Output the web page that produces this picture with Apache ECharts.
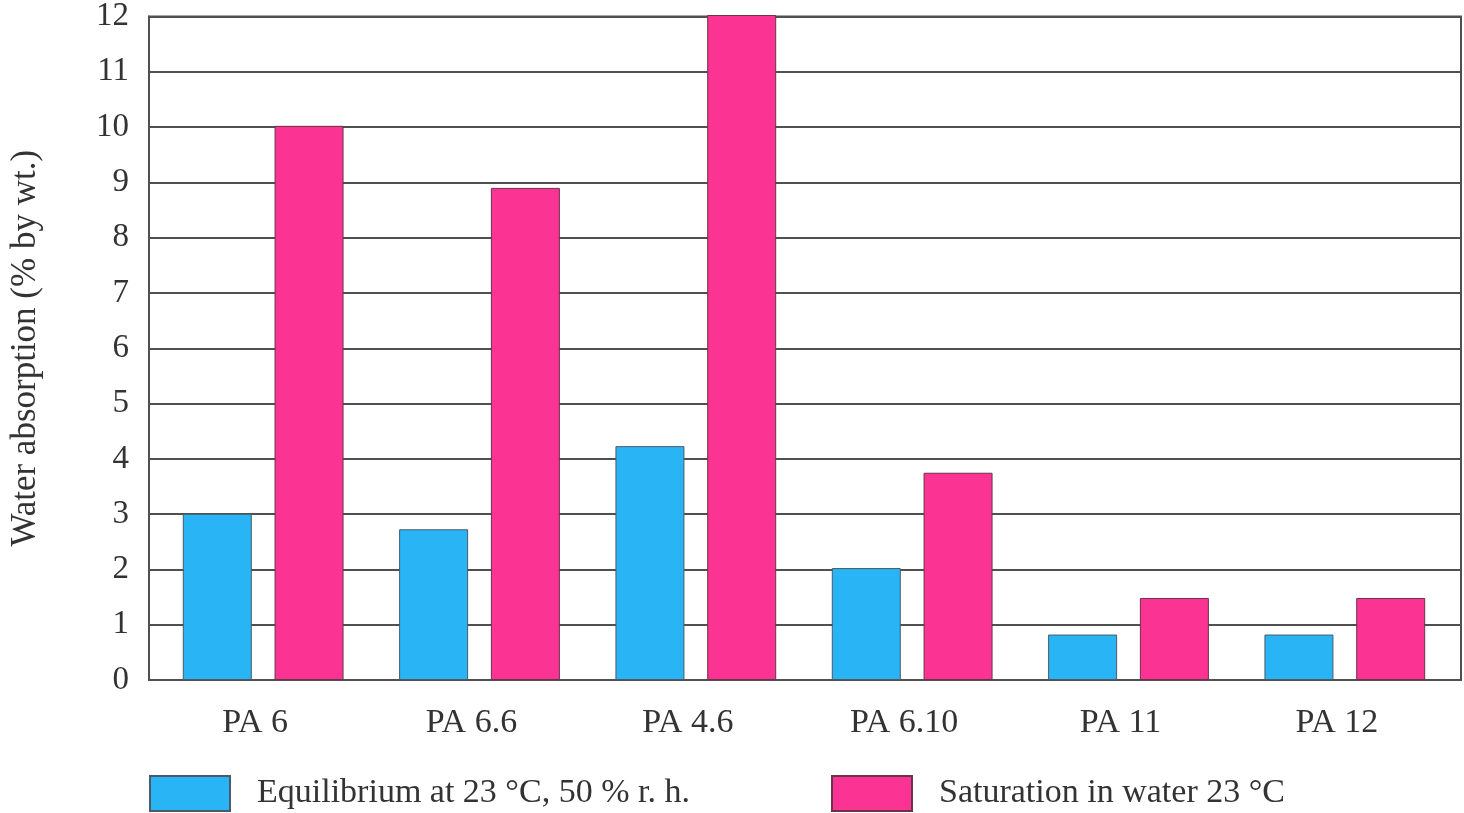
<!DOCTYPE html>
<html>
<head>
<meta charset="utf-8">
<script src="https://cdn.jsdelivr.net/npm/echarts@6/dist/echarts.min.js"></script>
<style>
html,body{margin:0;padding:0;background:#fff;}
#chart{width:1464px;height:813px;}
</style>
</head>
<body>
<div id="chart"></div>
<script>
const categories = ['PA 6', 'PA 6.6', 'PA 4.6', 'PA 6.10', 'PA 11', 'PA 12'];
const equilibrium = [3.0, 2.72, 4.22, 2.02, 0.82, 0.82];
const saturation = [10.0, 8.88, 12.0, 3.74, 1.48, 1.48];
const seriesNames = ['Equilibrium at 23 °C, 50 % r. h.', 'Saturation in water 23 °C'];
const yAxisTitle = 'Water absorption (% by wt.)';

const FONT = '"Liberation Serif", "DejaVu Serif", serif';
const TXT = '#333';
const LINE = '#505050';
const chart = echarts.init(document.getElementById('chart'));
chart.setOption({
  animation: false,
  backgroundColor: '#fff',
  textStyle: { fontFamily: FONT },
  grid: [
    { left: 147, right: 3, top: 15, bottom: 133, show: true, borderColor: LINE, borderWidth: 2, backgroundColor: 'transparent' },
    { left: 155, right: 11, top: 15, bottom: 133 }
  ],
  legend: [
    { data: [seriesNames[0]], left: 144, top: 770, itemWidth: 80, itemHeight: 35,
      textStyle: { fontFamily: FONT, fontSize: 34, color: TXT, padding: [0, 0, 0, 22] }, icon: 'rect' },
    { data: [seriesNames[1]], left: 826, top: 770, itemWidth: 80, itemHeight: 35,
      textStyle: { fontFamily: FONT, fontSize: 34, color: TXT, padding: [0, 0, 0, 22] }, icon: 'rect' }
  ],
  xAxis: [
    { gridIndex: 0, type: 'category', data: categories,
      axisLine: { lineStyle: { color: LINE, width: 2 } },
      axisTick: { show: false }, axisLabel: { show: false } },
    { gridIndex: 1, type: 'category', data: categories,
      axisLine: { show: false }, axisTick: { show: false },
      axisLabel: { fontFamily: FONT, fontSize: 34, color: TXT, margin: 26, padding: [0, 16, 0, 0] } }
  ],
  yAxis: [
    { gridIndex: 0, type: 'value', min: 0, max: 12, interval: 1,
      name: yAxisTitle, nameLocation: 'middle', nameGap: 106,
      nameTextStyle: { fontFamily: FONT, fontSize: 35, color: TXT },
      axisLine: { show: true, lineStyle: { color: LINE, width: 2 } },
      axisTick: { show: false },
      axisLabel: { fontFamily: FONT, fontSize: 33, color: TXT, margin: 20 },
      splitLine: { lineStyle: { color: LINE, width: 2 } } },
    { gridIndex: 1, type: 'value', min: 0, max: 12, interval: 1, show: false }
  ],
  series: [
    { name: seriesNames[0], type: 'bar', xAxisIndex: 1, yAxisIndex: 1, data: equilibrium, barWidth: 69, barGap: '33%',
      itemStyle: { color: '#29b5f5', borderColor: '#4a5a66', borderWidth: 1 } },
    { name: seriesNames[1], type: 'bar', xAxisIndex: 1, yAxisIndex: 1, data: saturation, barWidth: 69,
      itemStyle: { color: '#fb3393', borderColor: '#6a3348', borderWidth: 1 } }
  ]
});
</script>
</body>
</html>
